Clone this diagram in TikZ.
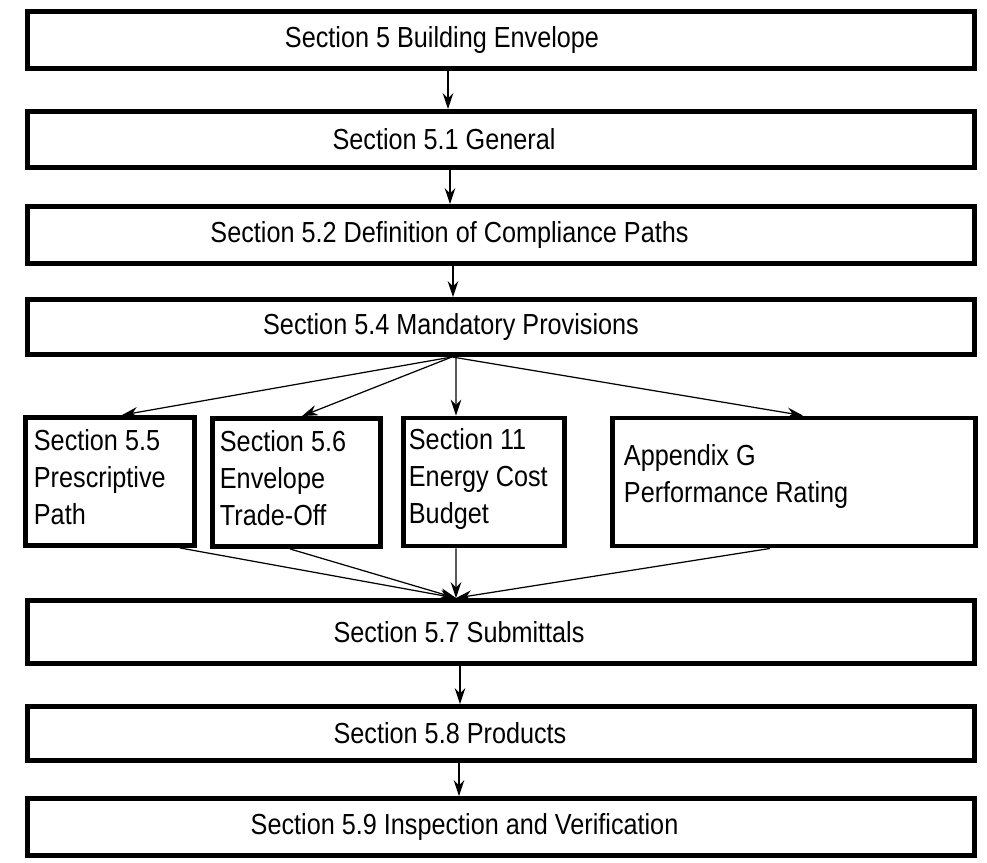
\documentclass[tikz,border=0pt]{standalone}
\usepackage{fontspec}
\setmainfont{Liberation Sans}[FakeStretch=0.87]
\usetikzlibrary{arrows.meta}

\begin{document}
\begin{tikzpicture}[>={Stealth[length=9pt,width=6pt]}, x=0.02cm, y=-0.02cm,
		every node/.style={font=\fontsize{16.5}{21}\selectfont},
		secbox/.style={draw, line width=2.8pt, inner sep=0pt, minimum width=18.94cm},
		subbox/.style={draw, line width=2.8pt, inner sep=0pt, minimum height=2.56cm},
		link/.style={line width=0.7pt}]
								\useasboundingbox (0,0) rectangle (987,862);

								\node[secbox, minimum height=1.14cm, label={[xshift=-1.18cm]center:Section 5 Building Envelope}] (s5) at (501,40) {};
								\node[secbox, minimum height=1.12cm, label={[xshift=-1.14cm]center:Section 5.1 General}] (s51) at (501,139.5) {};
								\node[secbox, minimum height=1.14cm, label={[xshift=-1.03cm]center:Section 5.2 Definition of Compliance Paths}] (s52) at (501,235) {};
								\node[secbox, minimum height=1.10cm, label={[xshift=-1.0cm]center:Section 5.4 Mandatory Provisions}] (s54) at (501,327) {};

								\node[subbox, minimum width=3.38cm, label={[anchor=north west, align=left, inner sep=0pt, xshift=0.21cm, yshift=-0.29cm]north west:Section 5.5\\Prescriptive\\Path}] (s55) at (110,481.5) {};
								\node[subbox, minimum width=3.36cm, label={[anchor=north west, align=left, inner sep=0pt, xshift=0.19cm, yshift=-0.29cm]north west:Section 5.6\\Envelope\\Trade-Off}] (s56) at (296.5,482.5) {};
								\node[subbox, minimum width=3.22cm, label={[anchor=north west, align=left, inner sep=0pt, xshift=0.15cm, yshift=-0.25cm]north west:Section 11\\Energy Cost\\Budget}] (s11) at (484,482) {};
								\node[subbox, minimum width=7.26cm, label={[anchor=north west, align=left, inner sep=0pt, xshift=0.27cm, yshift=-0.57cm]north west:Appendix G\\Performance Rating}] (sG) at (794,482) {};

								\node[secbox, minimum height=1.26cm, label={[xshift=-0.84cm]center:Section 5.7 Submittals}] (s57) at (501,632) {};
								\node[secbox, minimum height=1.08cm, label={[xshift=-1.02cm]center:Section 5.8 Products}] (s58) at (501,733.5) {};
								\node[secbox, minimum height=1.14cm, label={[xshift=-0.73cm]center:Section 5.9 Inspection and Verification}] (s59) at (501,827) {};

								\draw[link, ->] ([xshift=-1.06cm]s5.south) to ([xshift=-1.06cm]s51.north);
								\draw[link, ->] ([xshift=-1.02cm]s51.south) to ([xshift=-1.02cm]s52.north);
								\draw[link, ->] ([xshift=-0.96cm]s52.south) to ([xshift=-0.96cm]s54.north);

								\draw[link, ->] ([xshift=-0.98cm]s54.south) to ([xshift=0.24cm]s55.north);
								\draw[link, ->] ([xshift=-0.98cm]s54.south) to ([xshift=0.11cm]s56.north);
								\draw[link, ->] ([xshift=-0.9cm]s54.south) to ([xshift=-0.56cm]s11.north);
								\draw[link, ->] ([xshift=-0.98cm]s54.south) to ([xshift=0.18cm]sG.north);

								\draw[link, ->] ([xshift=1.4cm]s55.south) to ([xshift=-0.9cm]s57.north);
								\draw[link, ->] ([xshift=-0.13cm]s56.south) to ([xshift=-0.9cm]s57.north);
								\draw[link, ->] ([xshift=-0.56cm]s11.south) to ([xshift=-0.9cm]s57.north);
								\draw[link, ->] ([xshift=-0.48cm]sG.south) to ([xshift=-0.9cm]s57.north);

								\draw[link, ->] ([xshift=-0.82cm]s57.south) to ([xshift=-0.82cm]s58.north);
								\draw[link, ->] ([xshift=-0.84cm]s58.south) to ([xshift=-0.84cm]s59.north);

							\end{tikzpicture}
\end{document}
